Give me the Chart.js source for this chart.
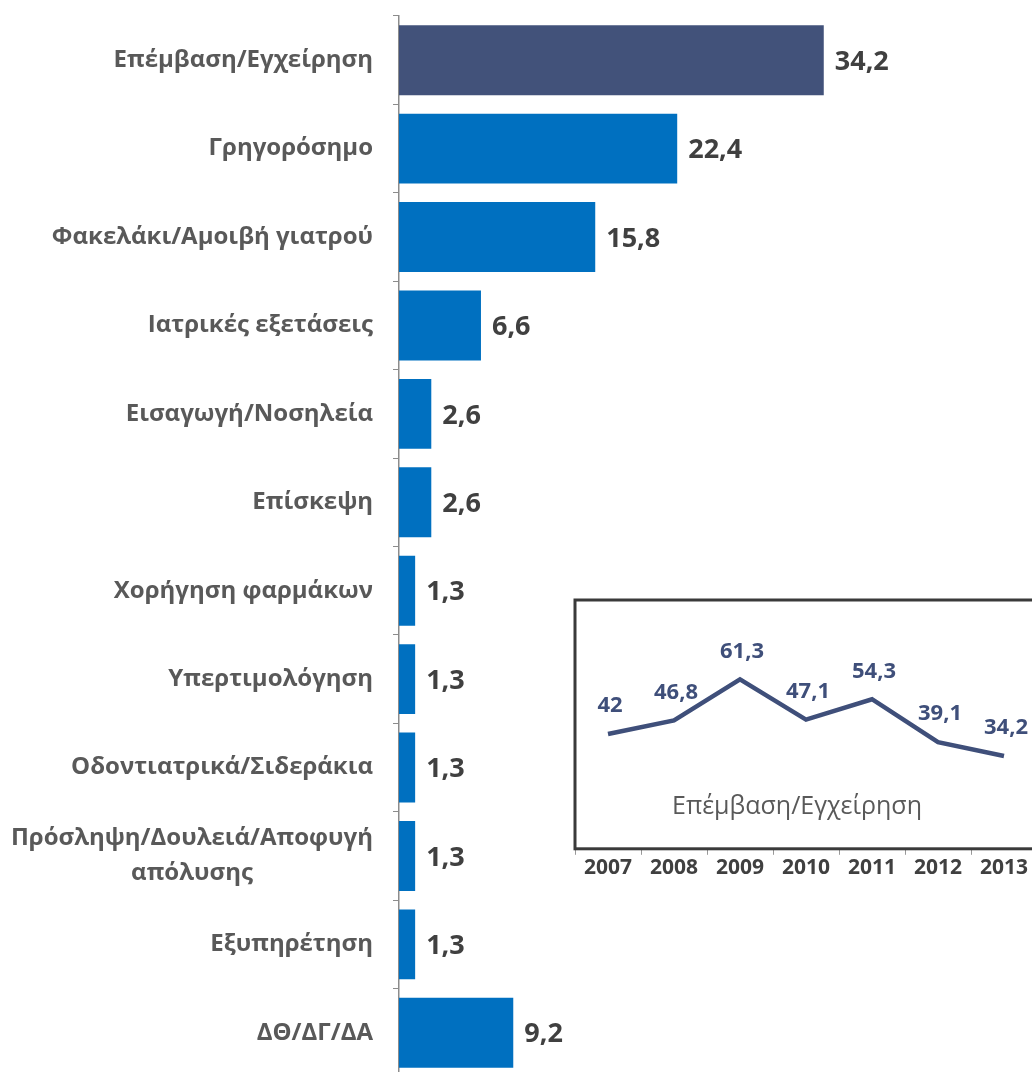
<!DOCTYPE html>
<html>
<head>
<meta charset="utf-8">
<script src="https://cdn.jsdelivr.net/npm/chart.js@4.4.0/dist/chart.umd.min.js"></script>
<style>
    html, body { margin: 0; padding: 0; background: #fff; overflow: hidden; width: 1032px; height: 1072px; }
    #barChart { position: absolute; left: 0; top: 0; }
    #lineChart { position: absolute; left: 560px; top: 580px; }
</style>
</head>
<body>
<canvas id="barChart" width="1032" height="1077"></canvas>
<canvas id="lineChart" width="490" height="302"></canvas>
<script>
// Bar chart data
const categories = [
    ["Επέμβαση/Εγχείρηση"],
    ["Γρηγορόσημο"],
    ["Φακελάκι/Αμοιβή γιατρού"],
    ["Ιατρικές εξετάσεις"],
    ["Εισαγωγή/Νοσηλεία"],
    ["Επίσκεψη"],
    ["Χορήγηση φαρμάκων"],
    ["Υπερτιμολόγηση"],
    ["Οδοντιατρικά/Σιδεράκια"],
    ["Πρόσληψη/Δουλειά/Αποφυγή", "απόλυσης"],
    ["Εξυπηρέτηση"],
    ["ΔΘ/ΔΓ/ΔΑ"]
];
const shares = [34.2, 22.4, 15.8, 6.6, 2.6, 2.6, 1.3, 1.3, 1.3, 1.3, 1.3, 9.2];

// Inset line chart data
const years = ["2007", "2008", "2009", "2010", "2011", "2012", "2013"];
const surgeryTrend = [42, 46.8, 61.3, 47.1, 54.3, 39.1, 34.2];
const insetTitle = "Επέμβαση/Εγχείρηση";

const FONT = '"Open Sans", "DejaVu Sans", sans-serif';

// Greek decimal comma
function fmt(v) {
    return String(v).replace('.', ',');
}

// Category labels: right aligned block, lines centred inside the block
const categoryLabels = {
    id: 'categoryLabels',
    afterDraw(chart) {
        const ctx = chart.ctx;
        const yScale = chart.scales.y;
        const right = yScale.right - 26;
        ctx.save();
        ctx.font = 'bold 24px ' + FONT;
        ctx.fillStyle = '#595959';
        ctx.textAlign = 'center';
        ctx.textBaseline = 'middle';
        categories.forEach((lines, i) => {
            const y = yScale.getPixelForValue(i);
            const w = Math.max(...lines.map(l => ctx.measureText(l).width));
            const lh = 35;
            const y0 = y - (lines.length - 1) * lh / 2;
            lines.forEach((l, j) => ctx.fillText(l, right - w / 2, y0 + j * lh));
        });
        ctx.restore();
    }
};

// Value labels at the end of each bar
const barValueLabels = {
    id: 'barValueLabels',
    afterDatasetsDraw(chart) {
        const ctx = chart.ctx;
        const meta = chart.getDatasetMeta(0);
        ctx.save();
        ctx.font = 'bold 27px ' + FONT;
        ctx.fillStyle = '#404040';
        ctx.textBaseline = 'middle';
        meta.data.forEach((bar, i) => {
            ctx.fillText(fmt(shares[i]), bar.x + 11, bar.y + 2);
        });
        ctx.restore();
    }
};

new Chart(document.getElementById('barChart'), {
    type: 'bar',
    data: {
        labels: categories.map(c => c.join(' ')),
        datasets: [{
            data: shares,
            backgroundColor: shares.map((v, i) => i === 0 ? '#42527A' : '#0070C0'),
            barPercentage: 0.79,
            categoryPercentage: 1
        }]
    },
    options: {
        indexAxis: 'y',
        responsive: false,
        animation: false,
        layout: { padding: { left: 0, right: 12, top: 16, bottom: 0 } },
        plugins: {
            legend: { display: false },
            tooltip: { enabled: false }
        },
        scales: {
            x: { display: false, min: 0, max: 50 },
            y: {
                afterFit: function (scale) { scale.width = 399; },
                grid: { drawOnChartArea: false, tickLength: 6, color: '#8c8c8c', offset: true },
                border: { color: '#8c8c8c', width: 1.5 },
                ticks: { display: false }
            }
        }
    },
    plugins: [categoryLabels, barValueLabels]
});

// Frame, point labels and caption for the inset
const insetDecor = {
    id: 'insetDecor',
    afterDraw(chart) {
        const ctx = chart.ctx;
        const a = chart.chartArea;
        const meta = chart.getDatasetMeta(0);
        ctx.save();
        ctx.strokeStyle = '#3a3a3a';
        ctx.lineWidth = 3;
        ctx.strokeRect(a.left, a.top, a.right - a.left, a.bottom - a.top);

        ctx.font = 'bold 22px ' + FONT;
        ctx.fillStyle = '#3F4F7A';
        ctx.textAlign = 'center';
        ctx.textBaseline = 'middle';
        meta.data.forEach((pt, i) => {
            ctx.fillText(fmt(surgeryTrend[i]), pt.x + 2, pt.y - 28);
        });

        ctx.font = '25px ' + FONT;
        ctx.fillStyle = '#595959';
        ctx.fillText(insetTitle, a.left + 222, a.top + 207);
        ctx.restore();
    }
};

new Chart(document.getElementById('lineChart'), {
    type: 'line',
    data: {
        labels: years,
        datasets: [{
            data: surgeryTrend,
            borderColor: '#3F4F7A',
            borderWidth: 4.5,
            pointRadius: 0,
            tension: 0
        }]
    },
    options: {
        responsive: false,
        animation: false,
        layout: { padding: { left: 15, right: 13, top: 20, bottom: 0 } },
        plugins: {
            legend: { display: false },
            tooltip: { enabled: false }
        },
        scales: {
            x: {
                offset: true,
                grid: { drawOnChartArea: false, tickLength: 6, color: '#999', offset: true },
                border: { display: false },
                ticks: { font: { family: FONT, size: 21, weight: 'bold' }, color: '#404040', padding: 1 }
            },
            y: { display: false, min: 1.4, max: 89.4 }
        }
    },
    plugins: [insetDecor]
});
</script>
</body>
</html>
